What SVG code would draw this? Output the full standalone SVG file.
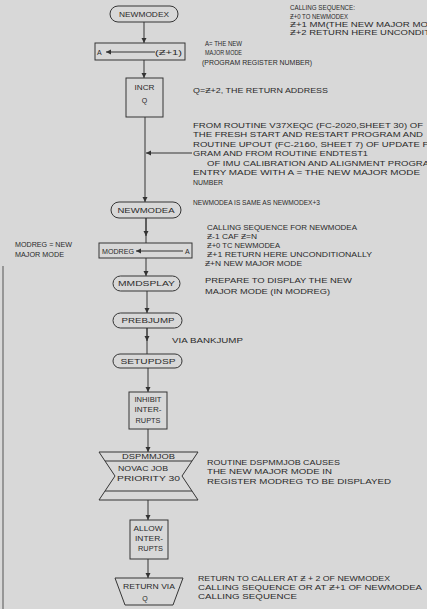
<svg xmlns="http://www.w3.org/2000/svg" width="427" height="609" viewBox="0 0 427 609">
  <defs>
    <marker id="arrow" markerWidth="5" markerHeight="6" refX="5" refY="3" orient="auto" markerUnits="userSpaceOnUse">
      <path d="M0,0.5 L5,3 L0,5.5 Z" fill="#333"/>
    </marker>
    <style>
      .shape { fill: none; stroke: #353535; stroke-width: 1; }
      .wire { fill: none; stroke: #353535; stroke-width: 1; marker-end: url(#arrow); }
      text { font-family: "Liberation Sans", "DejaVu Sans", sans-serif; font-size: 7px; fill: #2a2a2a; }
      .c { text-anchor: middle; }
    </style>
  </defs>

  <rect width="427" height="609" fill="#d8d8d8"/>
  <!-- sheet margin rule -->
  <line x1="3" y1="266" x2="3" y2="609" stroke="#555" stroke-width="1"/>

  <!-- flow connectors -->
  <g id="connectors">
    <line class="wire" x1="144" y1="22" x2="144" y2="43"/>
    <line class="wire" x1="144" y1="60" x2="144" y2="78"/>
    <line class="wire" x1="145" y1="117" x2="145" y2="202"/>
    <line class="wire" x1="192" y1="153" x2="146" y2="153"/>
    <line class="shape" x1="146" y1="218" x2="146" y2="243"/>
    <line class="wire" x1="146" y1="218" x2="146" y2="236"/>
    <line class="wire" x1="146" y1="258" x2="146" y2="276"/>
    <line class="wire" x1="147" y1="291" x2="147" y2="313"/>
    <line class="shape" x1="147" y1="328" x2="147" y2="354"/>
    <line class="wire" x1="147" y1="328" x2="147" y2="341"/>
    <line class="wire" x1="148" y1="368" x2="148" y2="392"/>
    <line class="wire" x1="148" y1="429" x2="148" y2="452"/>
    <line class="wire" x1="148" y1="500" x2="148" y2="520"/>
    <line class="wire" x1="148" y1="559" x2="148" y2="578"/>
  </g>

  <g id="newmodex">
    <rect class="shape" x="110" y="6" width="68" height="16" rx="8"/>
    <text class="c" x="144" y="16.5" textLength="50" lengthAdjust="spacingAndGlyphs">NEWMODEX</text>
  </g>

  <g id="set-a">
    <rect class="shape" x="95" y="43" width="90" height="17"/>
    <text x="97" y="54.5">A</text>
    <line class="wire" x1="155" y1="52" x2="106" y2="52"/>
    <text x="155" y="54.5" textLength="27" lengthAdjust="spacingAndGlyphs">(Ƶ+1)</text>
  </g>

  <g id="incr-q">
    <rect class="shape" x="126" y="78" width="37" height="39"/>
    <text class="c" x="144.5" y="89.5" textLength="20" lengthAdjust="spacingAndGlyphs">INCR</text>
    <text class="c" x="144.5" y="102.5">Q</text>
  </g>

  <g id="newmodea">
    <rect class="shape" x="111" y="202" width="70" height="16" rx="8"/>
    <text class="c" x="146" y="212.5" textLength="57" lengthAdjust="spacingAndGlyphs">NEWMODEA</text>
  </g>

  <g id="set-modreg">
    <rect class="shape" x="99" y="243" width="93" height="15"/>
    <text x="102" y="253.5" textLength="32" lengthAdjust="spacingAndGlyphs">MODREG</text>
    <line class="wire" x1="183" y1="251" x2="136" y2="251"/>
    <text x="185" y="253.5">A</text>
  </g>

  <g id="mmdsplay">
    <rect class="shape" x="113" y="276" width="67" height="15" rx="7.5"/>
    <text class="c" x="146.5" y="286" textLength="57" lengthAdjust="spacingAndGlyphs">MMDSPLAY</text>
  </g>

  <g id="prebjump">
    <rect class="shape" x="113" y="313" width="69" height="15" rx="7.5"/>
    <text class="c" x="148" y="323" textLength="53" lengthAdjust="spacingAndGlyphs">PREBJUMP</text>
  </g>

  <g id="setupdsp">
    <rect class="shape" x="113" y="354" width="69" height="14" rx="7"/>
    <text class="c" x="148" y="363.5" textLength="55" lengthAdjust="spacingAndGlyphs">SETUPDSP</text>
  </g>

  <g id="inhibit">
    <rect class="shape" x="129" y="392" width="38" height="37"/>
    <text class="c" x="148" y="401.5" textLength="27" lengthAdjust="spacingAndGlyphs">INHIBIT</text>
    <text class="c" x="148" y="411.5" textLength="27" lengthAdjust="spacingAndGlyphs">INTER-</text>
    <text class="c" x="148" y="422.5" textLength="25" lengthAdjust="spacingAndGlyphs">RUPTS</text>
  </g>

  <g id="dspmmjob">
    <path class="shape" d="M99,452 L198,452 L182,476 L198,500 L99,500 L115,476 Z"/>
    <line class="shape" x1="105" y1="461" x2="192" y2="461"/>
    <line class="shape" x1="105" y1="491" x2="192" y2="491"/>
    <text class="c" x="148.5" y="459" textLength="53" lengthAdjust="spacingAndGlyphs">DSPMMJOB</text>
    <text x="118" y="470.5" textLength="50" lengthAdjust="spacingAndGlyphs">NOVAC JOB</text>
    <text x="117" y="480.5" textLength="63" lengthAdjust="spacingAndGlyphs">PRIORITY 30</text>
  </g>

  <g id="allow">
    <rect class="shape" x="130" y="520" width="38" height="39"/>
    <text class="c" x="148" y="530.5" textLength="29" lengthAdjust="spacingAndGlyphs">ALLOW</text>
    <text class="c" x="149" y="540.5" textLength="28" lengthAdjust="spacingAndGlyphs">INTER-</text>
    <text class="c" x="150.5" y="550.5" textLength="25" lengthAdjust="spacingAndGlyphs">RUPTS</text>
  </g>

  <g id="return-via-q">
    <path class="shape" d="M115,578 L183,578 L173,605 L125,605 Z"/>
    <text class="c" x="149" y="588.5" textLength="52" lengthAdjust="spacingAndGlyphs">RETURN VIA</text>
    <text class="c" x="145" y="600.5">Q</text>
  </g>

  <!-- notes -->
  <g id="notes">
    <text x="290" y="9.5" textLength="65" lengthAdjust="spacingAndGlyphs">CALLING SEQUENCE:</text>
    <text x="290" y="18.5" textLength="58" lengthAdjust="spacingAndGlyphs">Ƶ+0 TO NEWMODEX</text>
    <text x="290" y="27" textLength="138" lengthAdjust="spacingAndGlyphs">Ƶ+1 MM(THE NEW MAJOR MO</text>
    <text x="290" y="35" textLength="140" lengthAdjust="spacingAndGlyphs">Ƶ+2 RETURN HERE UNCONDIT</text>

    <text x="205" y="45.5" textLength="37" lengthAdjust="spacingAndGlyphs">A= THE NEW</text>
    <text x="205" y="54.5" textLength="37" lengthAdjust="spacingAndGlyphs">MAJOR MODE</text>
    <text x="202" y="64.5" textLength="110" lengthAdjust="spacingAndGlyphs">(PROGRAM REGISTER NUMBER)</text>

    <text x="193" y="92.5" textLength="135" lengthAdjust="spacingAndGlyphs">Q=Ƶ+2, THE RETURN ADDRESS</text>

    <text x="193" y="127.5" textLength="230" lengthAdjust="spacingAndGlyphs">FROM ROUTINE V37XEQC (FC-2020,SHEET 30) OF</text>
    <text x="193" y="137" textLength="230" lengthAdjust="spacingAndGlyphs">THE FRESH START AND RESTART PROGRAM AND</text>
    <text x="193" y="146.5" textLength="236" lengthAdjust="spacingAndGlyphs">ROUTINE UPOUT (FC-2160, SHEET 7) OF UPDATE P</text>
    <text x="193" y="156" textLength="175" lengthAdjust="spacingAndGlyphs">GRAM AND FROM ROUTINE ENDTEST1</text>
    <text x="207" y="165.5" textLength="222" lengthAdjust="spacingAndGlyphs">OF IMU CALIBRATION AND ALIGNMENT PROGRA</text>
    <text x="193" y="175" textLength="227" lengthAdjust="spacingAndGlyphs">ENTRY MADE WITH A = THE NEW MAJOR MODE</text>
    <text x="193" y="184.5" textLength="30" lengthAdjust="spacingAndGlyphs">NUMBER</text>

    <text x="193" y="204.5" textLength="127" lengthAdjust="spacingAndGlyphs">NEWMODEA IS SAME AS NEWMODEX+3</text>

    <text x="207" y="229.5" textLength="150" lengthAdjust="spacingAndGlyphs">CALLING SEQUENCE FOR NEWMODEA</text>
    <text x="207" y="238.5" textLength="50" lengthAdjust="spacingAndGlyphs">Ƶ-1 CAF Ƶ=N</text>
    <text x="207" y="247.5" textLength="73" lengthAdjust="spacingAndGlyphs">Ƶ+0 TC NEWMODEA</text>
    <text x="207" y="256.5" textLength="165" lengthAdjust="spacingAndGlyphs">Ƶ+1 RETURN HERE UNCONDITIONALLY</text>
    <text x="205" y="266" textLength="97" lengthAdjust="spacingAndGlyphs">Ƶ+N NEW MAJOR MODE</text>

    <text x="205" y="282.5" textLength="147" lengthAdjust="spacingAndGlyphs">PREPARE TO DISPLAY THE NEW</text>
    <text x="205" y="293.5" textLength="125" lengthAdjust="spacingAndGlyphs">MAJOR MODE (IN MODREG)</text>

    <text x="172" y="342.5" textLength="71" lengthAdjust="spacingAndGlyphs">VIA BANKJUMP</text>

    <text x="207" y="464.5" textLength="133" lengthAdjust="spacingAndGlyphs">ROUTINE DSPMMJOB CAUSES</text>
    <text x="207" y="473.5" textLength="125" lengthAdjust="spacingAndGlyphs">THE NEW MAJOR MODE  IN</text>
    <text x="207" y="483.5" textLength="184" lengthAdjust="spacingAndGlyphs">REGISTER MODREG TO BE DISPLAYED</text>

    <text x="198" y="580.5" textLength="192" lengthAdjust="spacingAndGlyphs">RETURN TO CALLER AT Ƶ + 2 OF NEWMODEX</text>
    <text x="198" y="589.5" textLength="224" lengthAdjust="spacingAndGlyphs">CALLING SEQUENCE OR AT Ƶ+1 OF NEWMODEA</text>
    <text x="198" y="598.5" textLength="99" lengthAdjust="spacingAndGlyphs">CALLING SEQUENCE</text>

    <text x="15" y="246.5" textLength="57" lengthAdjust="spacingAndGlyphs">MODREG = NEW</text>
    <text x="15" y="256.5" textLength="49" lengthAdjust="spacingAndGlyphs">MAJOR MODE</text>
  </g>
</svg>
